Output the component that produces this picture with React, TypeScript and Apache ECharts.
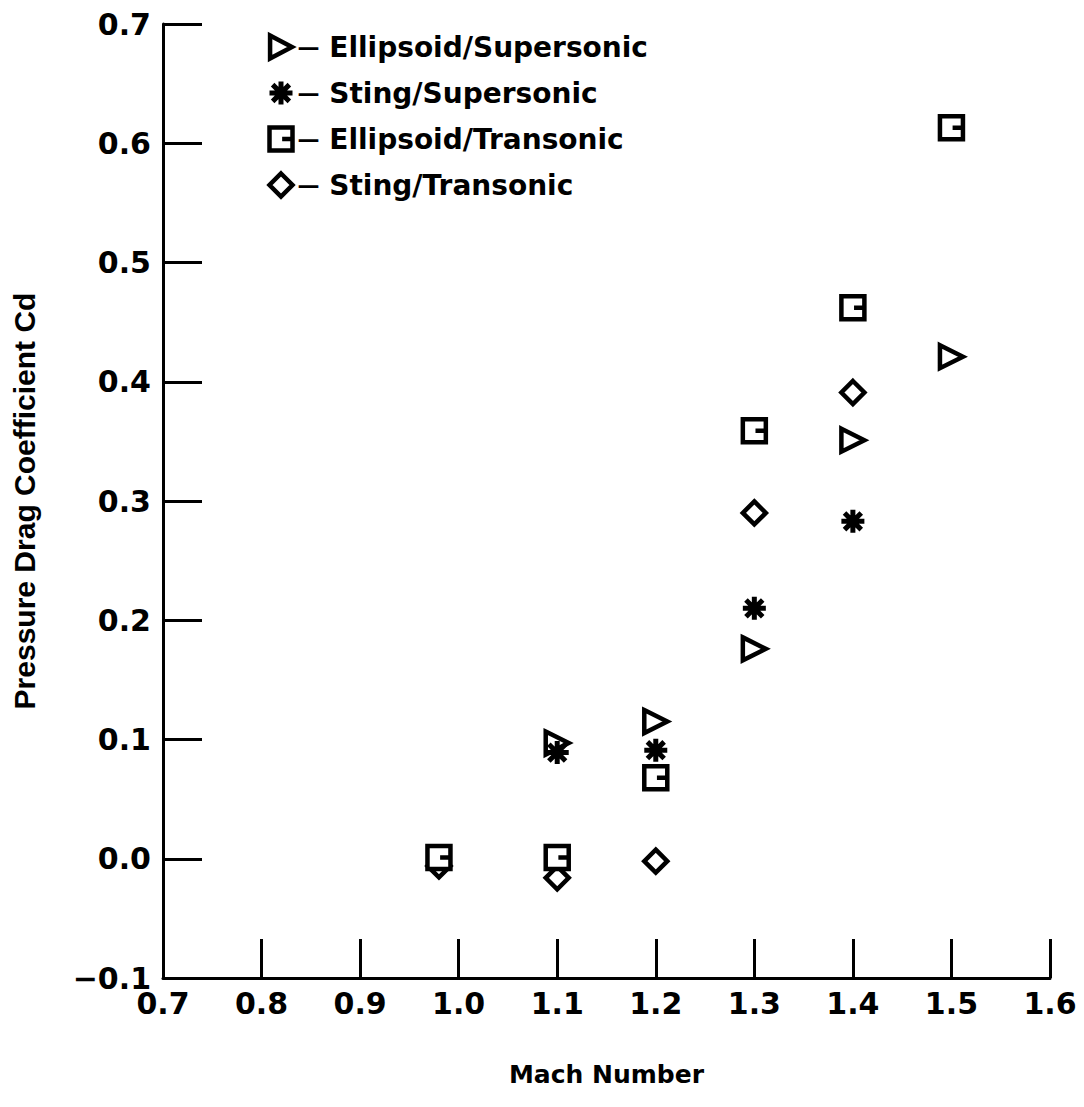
import React, { useEffect, useRef } from "react";
import * as echarts from "echarts";

const seriesNames = [
  "Ellipsoid/Supersonic",
  "Sting/Supersonic",
  "Ellipsoid/Transonic",
  "Sting/Transonic",
];

const ellipsoidSupersonic: [number, number][] = [
  [1.1, 0.097],
  [1.2, 0.115],
  [1.3, 0.176],
  [1.4, 0.351],
  [1.5, 0.421],
];
const stingSupersonic: [number, number][] = [
  [1.1, 0.089],
  [1.2, 0.091],
  [1.3, 0.21],
  [1.4, 0.283],
];
const ellipsoidTransonic: [number, number][] = [
  [0.98, 0.001],
  [1.1, 0.001],
  [1.2, 0.068],
  [1.3, 0.359],
  [1.4, 0.462],
  [1.5, 0.613],
];
const stingTransonic: [number, number][] = [
  [0.98, -0.006],
  [1.1, -0.016],
  [1.2, -0.002],
  [1.3, 0.29],
  [1.4, 0.391],
];

const symbols = [
  "path://M2,1 L21,11 L2,21 Z",
  "path://M11,0 L11,22 M0,11 L22,11 M3,3 L19,19 M19,3 L3,19",
  "path://M1,1 H21 V21 H1 Z M21,11 H12",
  "path://M11,1 L21,11 L11,21 L1,11 Z",
];

const ROUND = "'DejaVu Sans', Verdana, sans-serif";
const HELV = "'Liberation Sans', Arial, sans-serif";

export default function App() {
  const ref = useRef<HTMLDivElement>(null);
  useEffect(() => {
    if (!ref.current) return;
    const chart = echarts.init(ref.current, undefined, { renderer: "svg" });
    const datasets = [ellipsoidSupersonic, stingSupersonic, ellipsoidTransonic, stingTransonic];
    const widths = [4.5, 5, 4.5, 4.5];
    const series = datasets.map((d, i) => ({
      name: seriesNames[i],
      type: "scatter",
      data: d,
      symbol: symbols[i],
      symbolSize: 23,
      itemStyle: {
        color: i === 1 ? "none" : "#fff",
        borderColor: "#000",
        borderWidth: widths[i],
        opacity: 1,
      },
      emphasis: { disabled: true },
      z: 2 + (i === 2 ? 2 : 0),
    }));
    chart.setOption({
      animation: false,
      backgroundColor: "#fff",
      textStyle: { fontFamily: ROUND },
      grid: { left: 163, right: 34, top: 24, bottom: 129, containLabel: false },
      legend: {
        orient: "vertical",
        left: 262,
        top: 28,
        itemWidth: 23,
        itemHeight: 23,
        itemGap: 18,
        selectedMode: false,
        data: seriesNames.map((n, i) => ({
          name: n,
          itemStyle: {
            color: i === 1 ? "none" : "#fff",
            borderColor: "#000",
            borderWidth: widths[i],
          },
        })),
        formatter: (n: string) => "{d|\u2014} " + n,
        textStyle: {
          fontFamily: ROUND,
          fontSize: 28,
          fontWeight: "bold",
          color: "#000",
          rich: {
            d: { fontFamily: ROUND, fontSize: 22, fontWeight: "bold", color: "#000" },
          },
        },
      },
      xAxis: {
        type: "value",
        min: 0.7,
        max: 1.6,
        interval: 0.1,
        name: "Mach Number",
        nameLocation: "middle",
        nameGap: 84,
        nameTextStyle: { fontFamily: ROUND, fontSize: 25, fontWeight: "bold", color: "#000" },
        axisLine: { show: true, onZero: false, lineStyle: { color: "#000", width: 3 } },
        axisTick: { show: true, inside: true, length: 39, lineStyle: { color: "#000", width: 3 } },
        axisLabel: {
          fontFamily: ROUND,
          fontSize: 30,
          fontWeight: "bold",
          color: "#000",
          margin: 10,
          formatter: (v: number) => v.toFixed(1),
        },
        splitLine: { show: false },
      },
      yAxis: {
        type: "value",
        min: -0.1,
        max: 0.7,
        interval: 0.1,
        name: "Pressure Drag Coefficient Cd",
        nameLocation: "middle",
        nameGap: 124,
        nameTextStyle: { fontFamily: HELV, fontSize: 30, fontWeight: "bold", color: "#000" },
        axisLine: { show: true, onZero: false, lineStyle: { color: "#000", width: 3 } },
        axisTick: { show: true, inside: true, length: 39, lineStyle: { color: "#000", width: 3 } },
        axisLabel: {
          fontFamily: ROUND,
          fontSize: 30,
          fontWeight: "bold",
          color: "#000",
          margin: 12,
          formatter: (v: number) => (v < -0.05 ? "\u22120.1" : v.toFixed(1)),
        },
        splitLine: { show: false },
      },
      series,
    });
    return () => chart.dispose();
  }, []);
  return (
    <div
      ref={ref}
      style={{ position: "absolute", left: 0, top: 0, width: 1084, height: 1107 }}
    />
  );
}
